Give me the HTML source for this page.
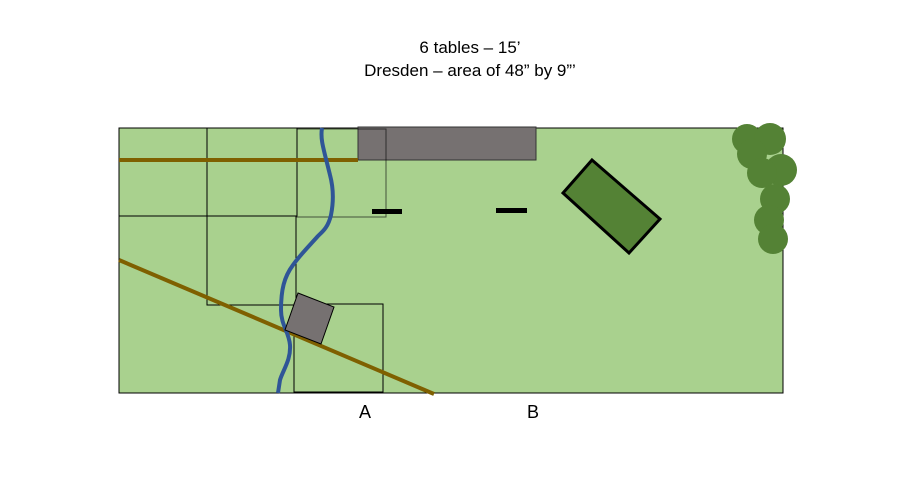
<!DOCTYPE html>
<html><head><style>body{margin:0;background:#fff}</style></head><body>
<svg width="923" height="487" xmlns="http://www.w3.org/2000/svg" font-family="Liberation Sans, sans-serif">
<text x="470" y="53" font-size="17" text-anchor="middle">6 tables – 15’</text>
<text x="470" y="76" font-size="17" text-anchor="middle">Dresden – area of 48” by 9”’</text>
<rect x="119" y="128" width="664" height="265" fill="#a9d18e" stroke="#000" stroke-width="1"/>
<rect x="358" y="127" width="178" height="33" fill="#767171" stroke="#333" stroke-width="1"/>
<g fill="none" stroke="#000" stroke-width="1">
<rect x="119" y="128" width="88" height="88"/>
<rect x="207" y="128" width="90" height="88"/>
<rect x="297" y="129" width="89" height="88" stroke-opacity="0.6"/>
<rect x="207" y="216" width="89" height="89"/>
<rect x="294" y="304" width="89" height="88"/>
</g>
<line x1="119" y1="160" x2="358" y2="160" stroke="#7f6000" stroke-width="4"/>
<line x1="119" y1="260" x2="434" y2="394" stroke="#7f6000" stroke-width="4"/>
<path d="M322,128 C320,140 324,150 330,175 C334,190 333,205 331,215 C328,228 322,232 318,236 C310,245 300,255 293,265 C284,277 281,290 281,310 C281,325 289,332 290,345 C291,360 283,370 280,380 L278,393" fill="none" stroke="#2f5597" stroke-width="4"/>
<polygon points="298,293 334,307 321,344 285,330" fill="#767171" stroke="#000" stroke-width="1"/>
<rect x="372" y="209" width="30" height="5" fill="#000"/>
<rect x="496" y="208" width="31" height="5" fill="#000"/>
<polygon points="592,160 660,219 629,253 563,193" fill="#548235" stroke="#000" stroke-width="3"/>
<g fill="#548235">
<circle cx="747" cy="139" r="15"/><circle cx="770" cy="139" r="16"/><circle cx="752" cy="154" r="15"/>
<circle cx="781" cy="170" r="16"/><circle cx="762" cy="173" r="15"/><circle cx="775" cy="199" r="15"/>
<circle cx="769" cy="220" r="15"/><circle cx="773" cy="239" r="15"/>
</g>
<text x="365" y="418" font-size="18" text-anchor="middle">A</text>
<text x="533" y="418" font-size="18" text-anchor="middle">B</text>
</svg>
</body></html>
